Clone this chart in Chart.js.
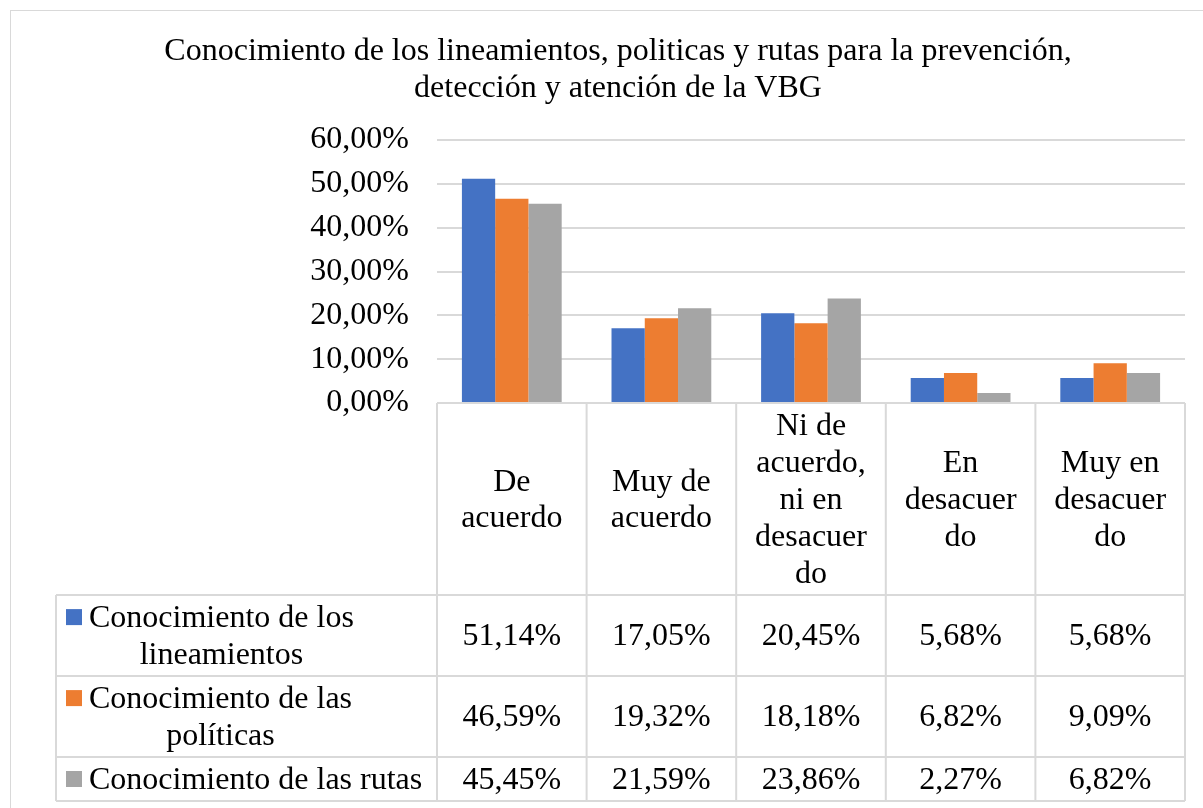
<!DOCTYPE html>
<html><head><meta charset="utf-8">
<script src="https://cdn.jsdelivr.net/npm/chart.js@4.4.0/dist/chart.umd.min.js"></script>
<style>html,body{margin:0;padding:0;background:#fff}</style>
</head><body>
<canvas id="c" width="1203" height="808"></canvas>
<script>
// ---- data ----
const titleLines = ["Conocimiento de los lineamientos, politicas y rutas para la prevención,", "detección y atención de la VBG"];
const categories = ["De acuerdo", "Muy de acuerdo", "Ni de acuerdo, ni en desacuerdo", "En desacuerdo", "Muy en desacuerdo"];
const categoryLabelLines = [["De", "acuerdo"], ["Muy de", "acuerdo"], ["Ni de", "acuerdo,", "ni en", "desacuer", "do"], ["En", "desacuer", "do"], ["Muy en", "desacuer", "do"]];
const seriesNames = ["Conocimiento de los lineamientos", "Conocimiento de las políticas", "Conocimiento de las rutas"];
const seriesLabelLines = [["Conocimiento de los", "lineamientos"], ["Conocimiento de las", "políticas"], ["Conocimiento de las rutas"]];
const lineamientos = [0.5114, 0.1705, 0.2045, 0.0568, 0.0568];
const politicas = [0.4659, 0.1932, 0.1818, 0.0682, 0.0909];
const rutas = [0.4545, 0.2159, 0.2386, 0.0227, 0.0682];
const seriesColors = ["#4472C4", "#ED7D31", "#A5A5A5"];
const yMin = 0, yMax = 0.6, yStep = 0.1;

const FONT = '"Liberation Serif", "Times New Roman", serif';
const FS = 32;
const LH = 36.8;
const GRID = "#D9D9D9";
const fmt = v => (v * 100).toFixed(2).replace('.', ',') + '%';

const seriesData = [lineamientos, politicas, rutas];

const decorPlugin = {
  id: 'decor',
  beforeDraw(chart) {
    const ctx = chart.ctx;
    ctx.save();
    ctx.fillStyle = '#fff';
    ctx.fillRect(0, 0, chart.width, chart.height);
    ctx.strokeStyle = GRID;
    ctx.lineWidth = 1;
    ctx.strokeRect(10.5, 10.5, chart.width + 20, chart.height + 20);
    ctx.restore();
  },
  afterDraw(chart) {
    const ctx = chart.ctx;
    const xs = chart.scales.x;
    const ca = chart.chartArea;
    ctx.save();
    // title
    ctx.fillStyle = '#000';
    ctx.font = FS + 'px ' + FONT;
    ctx.textAlign = 'center';
    ctx.textBaseline = 'alphabetic';
    titleLines.forEach((t, i) => ctx.fillText(t, 618, 60 + i * LH));

    // data table
    const n = categories.length;
    const catW = (xs.right - xs.left) / n;
    const top = ca.bottom;
    const rowTops = [595, 676, 757, 801];
    const legendLeft = 56;
    ctx.strokeStyle = GRID;
    ctx.lineWidth = 2;
    ctx.beginPath();
    // horizontal lines
    rowTops.forEach(y => { ctx.moveTo(legendLeft, y); ctx.lineTo(xs.right, y); });
    // vertical lines
    for (let i = 0; i <= n; i++) {
      const x = xs.left + i * catW;
      ctx.moveTo(x, top); ctx.lineTo(x, rowTops[rowTops.length - 1]);
    }
    ctx.moveTo(legendLeft, rowTops[0]); ctx.lineTo(legendLeft, rowTops[rowTops.length - 1]);
    ctx.stroke();

    const drawLines = (lines, cx, cy) => {
      lines.forEach((l, k) => {
        const yc = cy + (k - (lines.length - 1) / 2) * LH;
        ctx.fillText(l, cx, yc + 0.31 * FS);
      });
    };
    ctx.fillStyle = '#000';
    ctx.textAlign = 'center';
    // header labels
    for (let i = 0; i < n; i++) {
      const cx = xs.getPixelForValue(i);
      drawLines(categoryLabelLines[i], cx, (top + rowTops[0]) / 2);
    }
    // rows
    seriesData.forEach((arr, r) => {
      const y0 = rowTops[r], y1 = rowTops[r + 1];
      const cy = (y0 + y1) / 2;
      arr.forEach((v, i) => {
        ctx.textAlign = 'center';
        ctx.fillText(fmt(v), xs.getPixelForValue(i), cy + 0.31 * FS);
      });
      // legend key + row label
      const lines = seriesLabelLines[r];
      const firstCy = cy - (lines.length - 1) / 2 * LH;
      ctx.fillStyle = seriesColors[r];
      ctx.fillRect(66, firstCy - 8, 16, 16);
      ctx.fillStyle = '#000';
      const bw = Math.max(...lines.map(l => ctx.measureText(l).width));
      drawLines(lines, 89 + bw / 2, cy);
    });
    ctx.restore();
  }
};

new Chart(document.getElementById('c'), {
  type: 'bar',
  data: {
    labels: categories,
    datasets: seriesNames.map((name, i) => ({
      label: name,
      data: seriesData[i],
      backgroundColor: seriesColors[i],
      borderWidth: 0,
      categoryPercentage: 0.667,
      barPercentage: 1.0
    }))
  },
  options: {
    responsive: false,
    animation: false,
    layout: { padding: { top: 140, bottom: 405, left: 0, right: 18 } },
    plugins: { legend: { display: false }, title: { display: false }, tooltip: { enabled: false } },
    scales: {
      x: { display: false },
      y: {
        min: yMin, max: yMax,
        ticks: { stepSize: yStep, callback: v => fmt(v), font: { family: FONT, size: FS }, color: '#000', padding: 28 },
        grid: { color: GRID, lineWidth: 2, drawTicks: false },
        border: { display: false },
        afterFit: s => { s.width = 437; }
      }
    }
  },
  plugins: [decorPlugin]
});
</script>
</body></html>
